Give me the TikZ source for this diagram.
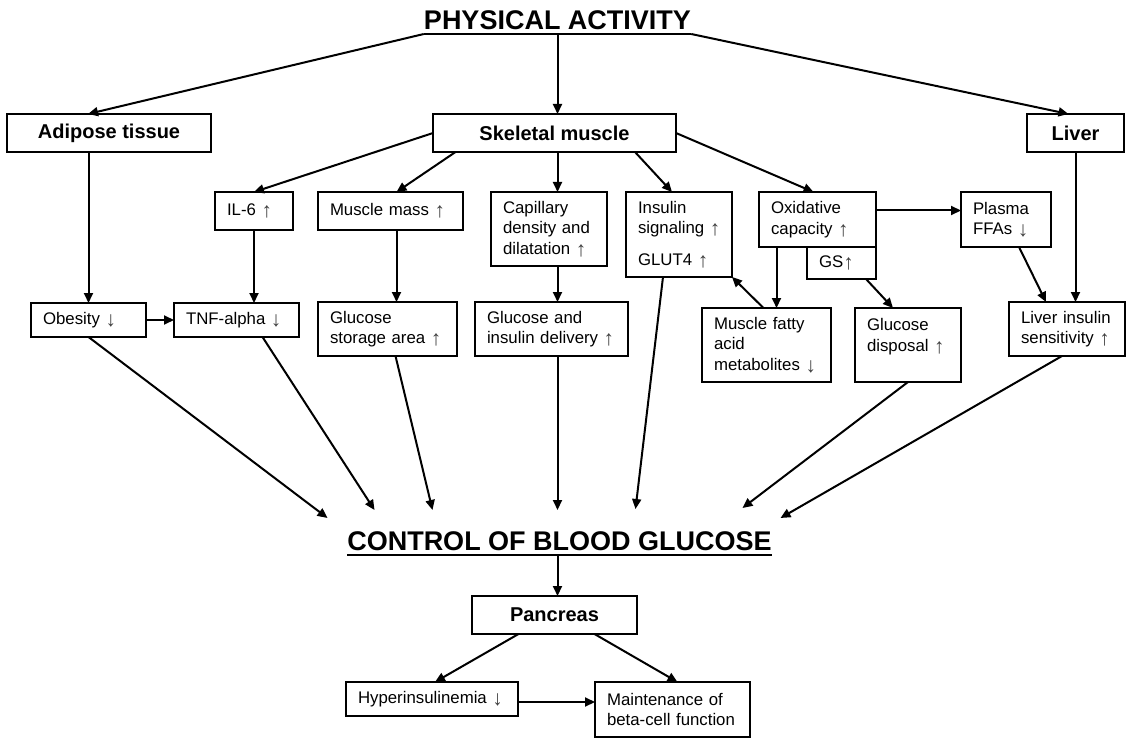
\documentclass[tikz,border=0pt]{standalone}
\usepackage{fontspec}
\setmainfont{Liberation Sans}
\usetikzlibrary{arrows.meta}
\newcommand{\upa}{\raisebox{-2pt}{\color{black!75}\fontsize{21}{20}\selectfont ↑}}
\newcommand{\downa}{\raisebox{-2pt}{\color{black!75}\fontsize{21}{20}\selectfont ↓}}

\begin{document}
\begin{tikzpicture}[x=1pt, y=-1pt,
    organ/.style={draw, line width=2pt, font=\fontsize{20}{24}\selectfont\bfseries, anchor=north west, inner sep=0pt, outer sep=0pt, minimum height=38pt},
    fact/.style={draw, line width=1.9pt, font=\fontsize{16.8}{20.5}\selectfont, anchor=north west, align=left, inner xsep=12pt, inner ysep=0pt, outer sep=0pt},
    heading/.style={font=\fontsize{27}{32}\selectfont\bfseries, anchor=base, inner sep=0pt},
    arr/.style={line width=2pt, -{Triangle[length=10pt,width=9pt]}}]
        \useasboundingbox (0,0) rectangle (1132,738);

        % headings with their underlines
        \node[heading] (pa) at (557.5,30) {PHYSICAL ACTIVITY};
        \coordinate (pa-l) at ([yshift=-4pt]pa.base west);
        \coordinate (pa-c) at ([yshift=-4pt]pa.base);
        \coordinate (pa-r) at ([yshift=-4pt]pa.base east);
        \draw[line width=2.8pt] (pa-l) -- (pa-r);

        \node[heading] (cbg) at (559.5,550) {CONTROL OF BLOOD GLUCOSE};
        \coordinate (cbg-l) at ([yshift=-5pt]cbg.base west);
        \coordinate (cbg-r) at ([yshift=-5pt]cbg.base east);
        \coordinate (cbg-top) at ([yshift=40pt]cbg.base);
        \draw[line width=2.8pt] (cbg-l) -- (cbg-r);

        % organs
        \node[organ, minimum width=204pt] (adipose) at (7,114) {Adipose tissue};
        \node[organ, minimum width=243pt] (skm) at (433,114) {Skeletal muscle};
        \node[organ, minimum width=97pt] (liver) at (1027,114) {Liver};
        \node[organ, minimum width=165pt] (panc) at (472,596) {Pancreas};

        % first level
        \node[fact, text width=54pt, minimum height=38pt] (il6) at (215,192) {IL-6~\upa};
        \node[fact, text width=121pt, minimum height=38pt] (mm) at (318,192) {Muscle mass~\upa};
        \node[fact, text width=92pt, minimum height=74pt] (cap) at (491,192) {Capillary\\density and\\dilatation~\upa};
        \node[fact, text width=82pt, minimum height=85pt] (ins) at (626,192) {Insulin\\signaling~\upa\\[11pt]GLUT4~\upa};
        \node[fact, text width=93pt, minimum height=55pt] (ox) at (759,192) {Oxidative\\capacity~\upa};
        \node[fact, text width=45pt, minimum height=32pt] (gs) at (807,247) {GS\upa};
        \node[fact, text width=66pt, minimum height=55pt] (ffa) at (961,192) {Plasma\\FFAs~\downa};

        % second level
        \node[fact, text width=91pt, minimum height=34pt] (obes) at (31,303) {Obesity~\downa};
        \node[fact, text width=101pt, minimum height=34pt] (tnf) at (174,303) {TNF-alpha~\downa};
        \node[fact, text width=115pt, minimum height=54pt] (gsa) at (318,302) {Glucose\\storage area~\upa};
        \node[fact, text width=129pt, minimum height=54pt] (gid) at (475,302) {Glucose and\\insulin delivery~\upa};
        \node[fact, text width=105pt, minimum height=74pt] (mfa) at (702,308) {Muscle fatty\\acid\\metabolites~\downa};
        \node[fact, text width=82pt, minimum height=74pt] (gd) at (855,308) {Glucose\\disposal~\upa\\\mbox{}};
        \node[fact, text width=92pt, minimum height=54pt] (lis) at (1009,302) {Liver insulin\\sensitivity~\upa};

        % below the pancreas
        \node[fact, text width=148pt, minimum height=34pt] (hyp) at (346,682) {Hyperinsulinemia~\downa};
        \node[fact, text width=131pt, minimum height=55pt] (beta) at (595,682) {Maintenance of\\beta-cell function};

        % from physical activity
        \draw[arr] (pa-l) -- ([xshift=-21pt]adipose.north);
        \draw[arr] (pa-c) -- (pa-c |- skm.north);
        \draw[arr] (pa-r) -- ([xshift=-7pt]liver.north);
        \draw[arr] (adipose.south -| obes.north) -- (obes.north);
        \draw[arr] (liver.south) -- (liver.south |- lis.north);

        % from skeletal muscle
        \draw[arr] (skm.west) -- (il6.north);
        \draw[arr] ([xshift=-99pt]skm.south) -- ([xshift=6pt]mm.north);
        \draw[arr] (pa-c |- skm.south) -- (pa-c |- cap.north);
        \draw[arr] ([xshift=-41pt]skm.south east) -- ([xshift=-7pt]ins.north);
        \draw[arr] (skm.east) -- ([xshift=-4pt]ox.north);

        % between the boxes
        \coordinate (mm-out) at ([xshift=6pt]mm.south);
        \coordinate (ox-out) at ([yshift=9pt]ox.east);
        \coordinate (mfa-in) at ([xshift=10pt]mfa.north);
        \draw[arr] (il6.south) -- (il6.south |- tnf.north);
        \draw[arr] (mm-out) -- (mm-out |- gsa.north);
        \draw[arr] (pa-c |- cap.south) -- (pa-c |- gid.north);
        \draw[arr] (obes.east) -- (tnf.west);
        \draw[arr] (ox-out) -- (ox-out -| ffa.west);
        \draw[arr] (mfa-in |- ox.south) -- (mfa-in);
        \draw[arr] ([xshift=-3pt]mfa.north) -- (ins.south east);
        \draw[arr] ([xshift=-10pt]gs.south east) -- ([xshift=38pt]gd.north west);
        \draw[arr] ([xshift=13pt]ffa.south) -- ([xshift=-21pt]lis.north);

        % into control of blood glucose
        \draw[arr] (obes.south) -- ([xshift=-232pt,yshift=32pt]cbg.base);
        \draw[arr] ([xshift=26pt]tnf.south) -- ([xshift=-185pt,yshift=40pt]cbg.base);
        \draw[arr] ([xshift=8pt]gsa.south) -- ([xshift=-127pt,yshift=40pt]cbg.base);
        \draw[arr] (pa-c |- gid.south) -- (pa-c |- cbg-top);
        \draw[arr] ([xshift=-16pt]ins.south) -- ([xshift=76pt,yshift=41pt]cbg.base);
        \draw[arr] (gd.south) -- ([xshift=183pt,yshift=42pt]cbg.base);
        \draw[arr] ([xshift=-5pt]lis.south) -- ([xshift=221pt,yshift=32pt]cbg.base);

        % pancreas
        \coordinate (hyp-out) at ([yshift=-3pt]hyp.east);
        \draw[arr] (pa-c |- cbg-l) -- (pa-c |- panc.north);
        \draw[arr] ([xshift=-36pt]panc.south) -- ([xshift=3pt]hyp.north);
        \draw[arr] ([xshift=40pt]panc.south) -- ([xshift=5pt]beta.north);
        \draw[arr] (hyp-out) -- (hyp-out -| beta.west);
    \end{tikzpicture}
\end{document}
